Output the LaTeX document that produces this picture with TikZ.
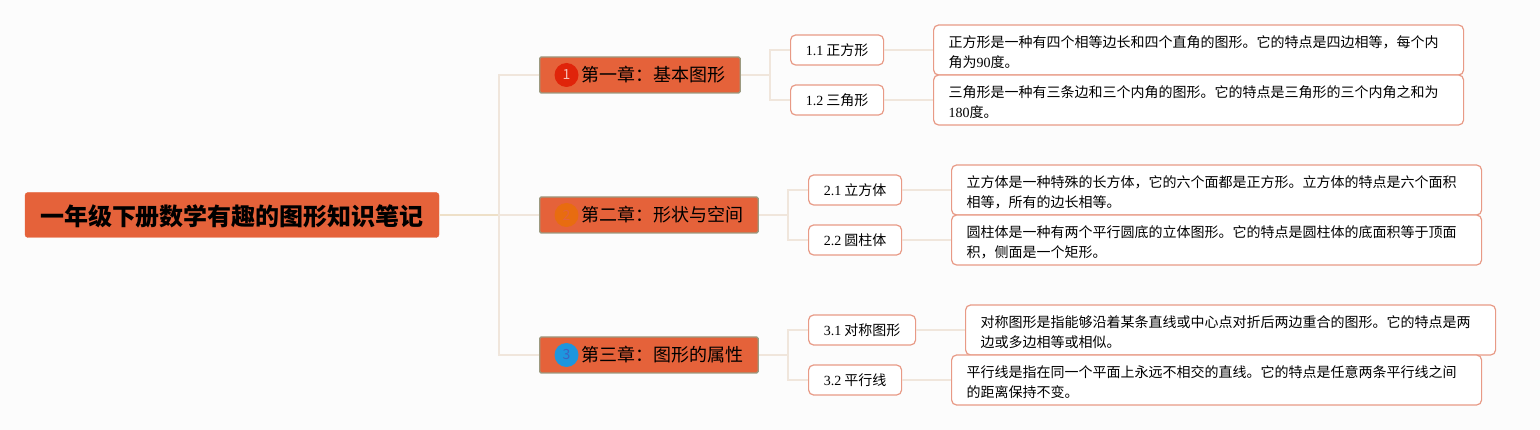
\documentclass[tikz,border=0pt]{standalone}
\usepackage{fontspec}
\setmainfont{Noto Sans CJK SC}
\newfontfamily\latinnum{Liberation Serif}
\newcommand{\numtext}[1]{{\latinnum #1}}
\newcommand{\fwcomma}{^^^^ff0c}
\newcommand{\fwcolon}{^^^^ff1a}
\setlength{\normallineskiplimit}{-20pt}
\setlength{\lineskiplimit}{-20pt}
\definecolor{pagebg}{HTML}{FCFCFC}
\definecolor{nodefill}{HTML}{E5623A}
\definecolor{chapline}{HTML}{9C9A80}
\definecolor{boxline}{HTML}{E89A86}
\definecolor{linkline}{HTML}{F0E6DC}
\definecolor{rootline}{HTML}{EEE0C8}
\definecolor{badgered}{HTML}{E0240A}
\definecolor{badgeorange}{HTML}{E86C10}
\definecolor{badgeblue}{HTML}{1E96DE}
\tikzset{
  rootbox/.style={draw=nodefill, fill=nodefill, rounded corners=3pt, minimum width=414pt, minimum height=45pt, inner sep=0pt, text height=24pt, text depth=2pt, font=\fontsize{24}{28}\selectfont\bfseries},
  chapbox/.style={anchor=west, draw=chapline, line width=1.4pt, fill=nodefill, rounded corners=1.5pt, minimum height=36pt, inner sep=0pt, font=\fontsize{18}{22}\selectfont, execute at begin node=\hspace*{42pt}, execute at end node=\hspace*{14.5pt}},
  badge/.style={circle, minimum size=24pt, inner sep=0pt, font=\fontsize{14}{16}\selectfont},
  subbox/.style={anchor=west, draw=boxline, line width=1.2pt, fill=white, rounded corners=5pt, minimum height=30pt, inner sep=0pt, font=\fontsize{14}{17}\selectfont},
  descbox/.style={anchor=west, draw=boxline, line width=1.2pt, fill=white, rounded corners=5pt, minimum width=530pt, minimum height=50pt, inner xsep=15pt, inner ysep=0pt, align=left, font=\fontsize{14}{20}\selectfont, text width=500pt, execute at begin node=\rule{0pt}{16.5pt}},
  link/.style={draw=linkline, line width=1.5pt},
}
\begin{document}
\begin{tikzpicture}[x=1pt,y=-1pt]
    \useasboundingbox [fill=pagebg] (0,0) rectangle (1540,430);
    \node [rootbox] (root) at (232,215) {一年级下册数学有趣的图形知识笔记};
    % chapters
    \node [chapbox] (ch1) at (539,75) {第一章\fwcolon 基本图形};
    \node [chapbox] (ch2) at (539,215) {第二章\fwcolon 形状与空间};
    \node [chapbox] (ch3) at (539,355) {第三章\fwcolon 图形的属性};
    \node [badge, fill=badgered, text=white!70!badgered] (bd1) at (566.5,75) {1};
    \node [badge, fill=badgeorange, text=nodefill] (bd2) at (566.5,215) {2};
    \node [badge, fill=badgeblue, text=gray!60!blue!70!badgeblue] (bd3) at (566.5,355) {3};
    % sub topics
    \node [subbox, minimum width=93pt] (s11) at (790,50) {\numtext{1.1} 正方形};
    \node [subbox, minimum width=93pt] (s12) at (790,100) {\numtext{1.2} 三角形};
    \node [subbox, minimum width=93pt] (s21) at (808,190) {\numtext{2.1} 立方体};
    \node [subbox, minimum width=93pt] (s22) at (808,240) {\numtext{2.2} 圆柱体};
    \node [subbox, minimum width=107pt] (s31) at (808,330) {\numtext{3.1} 对称图形};
    \node [subbox, minimum width=93pt] (s32) at (808,380) {\numtext{3.2} 平行线};
    % notes
    \node [descbox] (d11) at (933,50) {正方形是一种有四个相等边长和四个直角的图形。它的特点是四边相等\fwcomma 每个内\\角为\numtext{90}度。};
    \node [descbox] (d12) at (933,100) {三角形是一种有三条边和三个内角的图形。它的特点是三角形的三个内角之和为\\\numtext{180}度。};
    \node [descbox] (d21) at (951,190) {立方体是一种特殊的长方体\fwcomma 它的六个面都是正方形。立方体的特点是六个面积\\相等\fwcomma 所有的边长相等。};
    \node [descbox] (d22) at (951,240) {圆柱体是一种有两个平行圆底的立体图形。它的特点是圆柱体的底面积等于顶面\\积\fwcomma 侧面是一个矩形。};
    \node [descbox] (d31) at (965,330) {对称图形是指能够沿着某条直线或中心点对折后两边重合的图形。它的特点是两\\边或多边相等或相似。};
    \node [descbox] (d32) at (951,380) {平行线是指在同一个平面上永远不相交的直线。它的特点是任意两条平行线之间\\的距离保持不变。};
    % links
    \draw [link] (root.east) -- (ch2.west);
    \draw [link, draw=rootline] (root.east) -- (499,215);
    \draw [link] (ch1.west) -- (499,75) -- (499,355) -- (ch3.west);
    \draw [link] (ch1.east) -- (770,75);
    \draw [link] (s11.west) -- (770,50) -- (770,100) -- (s12.west);
    \draw [link] (ch2.east) -- (788,215);
    \draw [link] (s21.west) -- (788,190) -- (788,240) -- (s22.west);
    \draw [link] (ch3.east) -- (788,355);
    \draw [link] (s31.west) -- (788,330) -- (788,380) -- (s32.west);
    \draw [link] (s11) -- (d11);
    \draw [link] (s12) -- (d12);
    \draw [link] (s21) -- (d21);
    \draw [link] (s22) -- (d22);
    \draw [link] (s31) -- (d31);
    \draw [link] (s32) -- (d32);
\end{tikzpicture}
\end{document}
